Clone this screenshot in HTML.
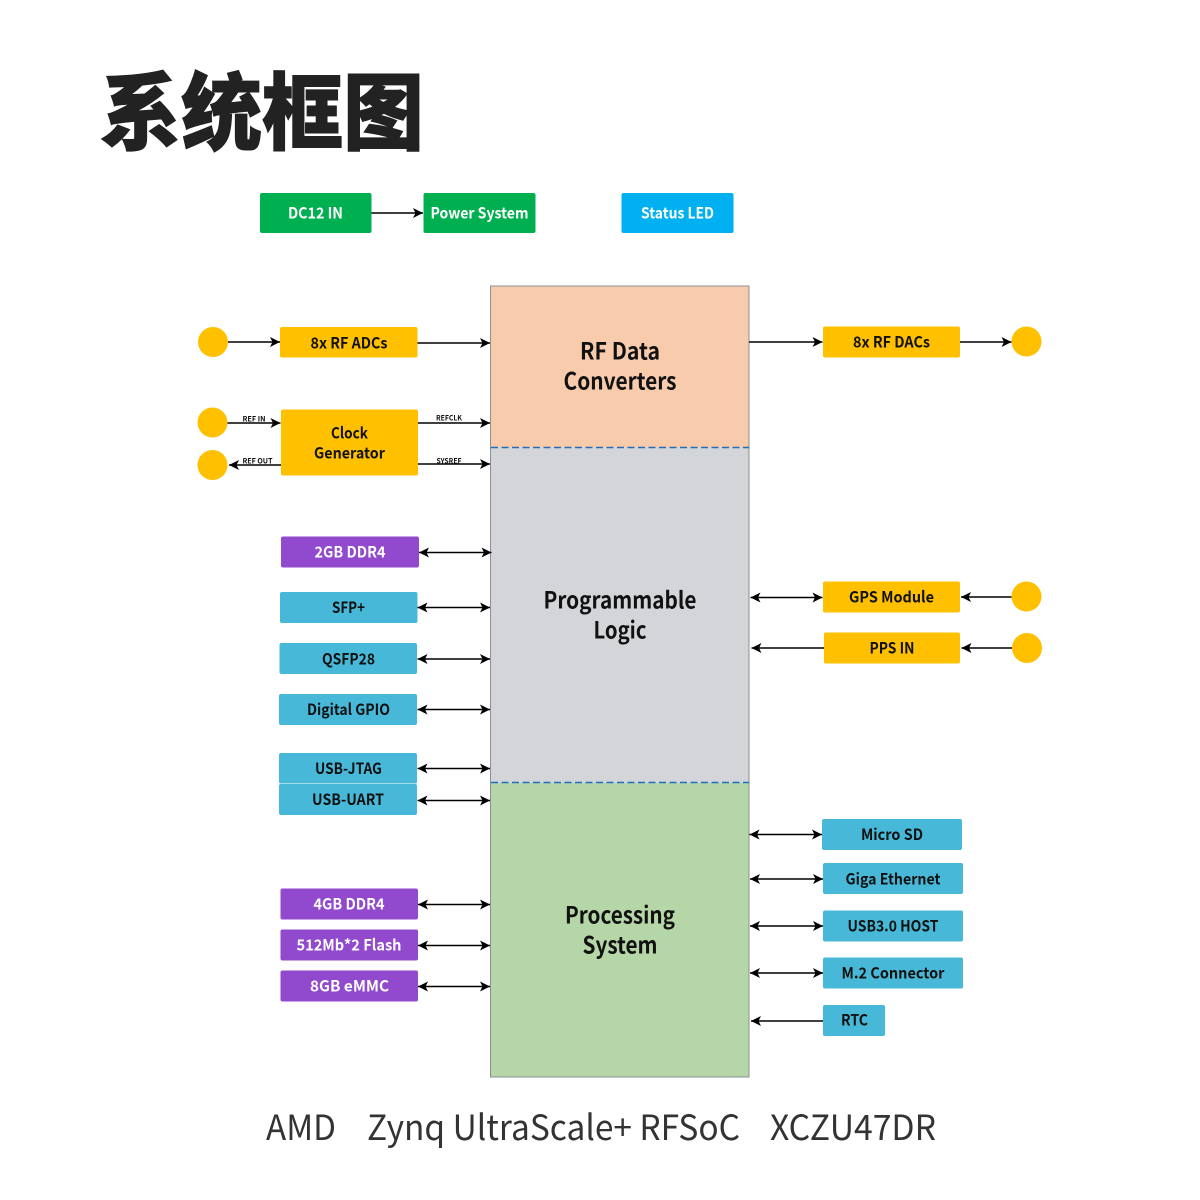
<!DOCTYPE html>
<html><head><meta charset="utf-8"><style>
html,body{margin:0;padding:0;background:#fff}
svg{display:block}
text{font-family:"Noto Sans CJK SC","Liberation Sans",sans-serif;font-weight:bold;text-anchor:middle}
.b{font-size:15.500px;fill:#111}
.w{font-size:15.500px;fill:#fff}
.s{font-size:7.500px;fill:#111}
.m{font-size:23.500px;fill:#111}
.c{font-family:"Noto Sans CJK SC","Liberation Sans",sans-serif;font-weight:400;font-size:35px;fill:#333;text-anchor:start}
</style></head><body>
<svg width="1200" height="1200" viewBox="0 0 1200 1200" xmlns="http://www.w3.org/2000/svg">
<defs>
<marker id="e" markerUnits="userSpaceOnUse" markerWidth="11" markerHeight="10" refX="10" refY="5" orient="auto"><path d="M0 0L10 5L0 10L2.500 5Z" fill="#000"/></marker>
<marker id="st" markerUnits="userSpaceOnUse" markerWidth="11" markerHeight="10" refX="0" refY="5" orient="auto"><path d="M10 0L0 5L10 10L7.500 5Z" fill="#000"/></marker>
</defs>
<text x="100" y="143" textLength="324" lengthAdjust="spacingAndGlyphs" style="font-family:'Noto Sans CJK SC','WenQuanYi Zen Hei',sans-serif;font-weight:900;font-size:84px;fill:#222;stroke:#222;stroke-width:1px;text-anchor:start">系统框图</text>

<rect x="490.500" y="286" width="258.500" height="162" fill="#f8cbad"/>
<rect x="490.500" y="448" width="258.500" height="335" fill="#d3d5d8"/>
<rect x="490.500" y="783" width="258.500" height="294" fill="#b5d6a7"/>
<rect x="490.500" y="286" width="258.500" height="791" fill="none" stroke="#8a9090" stroke-width="1"/>
<path d="M491 447.500H749M491 782.500H749" stroke="#1f6fbf" stroke-width="1.600" stroke-dasharray="7 3.500" fill="none"/>

<g fill="#00b050"><rect x="260" y="193" width="111.500" height="40" rx="2"/><rect x="423.500" y="193" width="112" height="40" rx="2"/></g>
<rect x="621.500" y="193" width="112" height="40" rx="2" fill="#00b0f0"/>

<g fill="#ffc000">
<rect x="280" y="327" width="137.500" height="30.500" rx="2"/>
<rect x="281" y="409.500" width="137" height="66" rx="2"/>
<rect x="823" y="326.500" width="137" height="31" rx="2"/>
<rect x="823" y="581.500" width="137" height="31" rx="2"/>
<rect x="824" y="632.500" width="136" height="31" rx="2"/>
<circle cx="213" cy="342" r="15"/><circle cx="212.500" cy="422.500" r="15"/><circle cx="212.500" cy="465" r="15"/>
<circle cx="1026.500" cy="341.500" r="15"/><circle cx="1026.500" cy="596.500" r="15"/><circle cx="1027" cy="648" r="15"/>
</g>
<g fill="#9149cd">
<rect x="281" y="536.500" width="138" height="31" rx="2"/>
<rect x="280.500" y="888.500" width="137.500" height="31" rx="2"/>
<rect x="280.500" y="929.500" width="137.500" height="31" rx="2"/>
<rect x="280.500" y="970.500" width="137.500" height="31" rx="2"/>
</g>
<g fill="#48b8d8">
<rect x="280" y="592" width="137.500" height="31" rx="2"/>
<rect x="279.500" y="643" width="137.500" height="31" rx="2"/>
<rect x="279" y="694" width="138" height="31" rx="2"/>
<rect x="279" y="753" width="138" height="30.500" rx="2"/>
<rect x="279" y="784" width="138" height="31" rx="2"/>
<rect x="822" y="819" width="140" height="31" rx="2"/>
<rect x="823" y="863" width="140" height="31" rx="2"/>
<rect x="823" y="910.500" width="140" height="31" rx="2"/>
<rect x="823" y="957.500" width="140" height="31" rx="2"/>
<rect x="823" y="1005" width="62" height="31" rx="2"/>
</g>

<g stroke="#000" stroke-width="1.500" fill="none">
<path d="M371.500 213H423" marker-end="url(#e)"/>
<path d="M228 342H280" marker-end="url(#e)"/>
<path d="M417.500 343H490" marker-end="url(#e)"/>
<path d="M227.500 423H280.500" marker-end="url(#e)"/>
<path d="M281 465H229" marker-end="url(#e)"/>
<path d="M418 423H490" marker-end="url(#e)"/>
<path d="M418 464H490" marker-end="url(#e)"/>
<path d="M749 342H822.500" marker-end="url(#e)"/>
<path d="M960 342H1011.500" marker-end="url(#e)"/>
<path d="M1011.500 597H961" marker-end="url(#e)"/>
<path d="M1012 648H961.500" marker-end="url(#e)"/>
<path d="M824 648H751.500" marker-end="url(#e)"/>
<path d="M823 1021H751" marker-end="url(#e)"/>
<path d="M419 552.500H491.500" marker-start="url(#st)" marker-end="url(#e)"/>
<path d="M417.500 607.500H490" marker-start="url(#st)" marker-end="url(#e)"/>
<path d="M417.500 659H490" marker-start="url(#st)" marker-end="url(#e)"/>
<path d="M417.500 709.500H490" marker-start="url(#st)" marker-end="url(#e)"/>
<path d="M417.500 768.500H490" marker-start="url(#st)" marker-end="url(#e)"/>
<path d="M417.500 800.500H490" marker-start="url(#st)" marker-end="url(#e)"/>
<path d="M418 904.500H490" marker-start="url(#st)" marker-end="url(#e)"/>
<path d="M418 945.500H490" marker-start="url(#st)" marker-end="url(#e)"/>
<path d="M418 986.500H490" marker-start="url(#st)" marker-end="url(#e)"/>
<path d="M750.500 597.500H822.500" marker-start="url(#st)" marker-end="url(#e)"/>
<path d="M749.500 834.500H822" marker-start="url(#st)" marker-end="url(#e)"/>
<path d="M750 879H823" marker-start="url(#st)" marker-end="url(#e)"/>
<path d="M750 926H823" marker-start="url(#st)" marker-end="url(#e)"/>
<path d="M750 973H823" marker-start="url(#st)" marker-end="url(#e)"/>
</g>

<g transform="translate(0 0.500)">
<text class="w" x="315.500" y="218" textLength="55" lengthAdjust="spacingAndGlyphs">DC12 IN</text>
<text class="w" x="479.500" y="218" textLength="98" lengthAdjust="spacingAndGlyphs">Power System</text>
<text class="w" x="677.500" y="218" textLength="73" lengthAdjust="spacingAndGlyphs">Status LED</text>
<text class="b" x="349" y="348" textLength="77" lengthAdjust="spacingAndGlyphs">8x RF ADCs</text>
<text class="b" x="349.500" y="438" textLength="37" lengthAdjust="spacingAndGlyphs">Clock</text>
<text class="b" x="349.500" y="458" textLength="71" lengthAdjust="spacingAndGlyphs">Generator</text>
<text class="b" x="891.500" y="347" textLength="77" lengthAdjust="spacingAndGlyphs">8x RF DACs</text>
<text class="b" x="891.500" y="602" textLength="85" lengthAdjust="spacingAndGlyphs">GPS Module</text>
<text class="b" x="892" y="653" textLength="45" lengthAdjust="spacingAndGlyphs">PPS IN</text>
<text class="w" x="350" y="557" textLength="71" lengthAdjust="spacingAndGlyphs">2GB DDR4</text>
<text class="b" x="348.500" y="612.500" textLength="33" lengthAdjust="spacingAndGlyphs">SFP+</text>
<text class="b" x="348.500" y="664" textLength="53" lengthAdjust="spacingAndGlyphs">QSFP28</text>
<text class="b" x="348.500" y="714.500" textLength="83" lengthAdjust="spacingAndGlyphs">Digital GPIO</text>
<text class="b" x="348.500" y="773.500" textLength="67" lengthAdjust="spacingAndGlyphs">USB-JTAG</text>
<text class="b" x="348" y="804.500" textLength="72" lengthAdjust="spacingAndGlyphs">USB-UART</text>
<text class="w" x="349" y="909" textLength="71" lengthAdjust="spacingAndGlyphs">4GB DDR4</text>
<text class="w" x="349" y="950" textLength="105" lengthAdjust="spacingAndGlyphs">512Mb*2 Flash</text>
<text class="w" x="349.500" y="991" textLength="79" lengthAdjust="spacingAndGlyphs">8GB eMMC</text>
<text class="b" x="892" y="839.500" textLength="62" lengthAdjust="spacingAndGlyphs">Micro SD</text>
<text class="b" x="893" y="884" textLength="95" lengthAdjust="spacingAndGlyphs">Giga Ethernet</text>
<text class="b" x="893" y="931" textLength="91" lengthAdjust="spacingAndGlyphs">USB3.0 HOST</text>
<text class="b" x="893" y="978" textLength="103" lengthAdjust="spacingAndGlyphs">M.2 Connector</text>
<text class="b" x="854.500" y="1025" textLength="27" lengthAdjust="spacingAndGlyphs">RTC</text>

<text class="s" x="254" y="421" textLength="23" lengthAdjust="spacingAndGlyphs">REF IN</text>
<text class="s" x="257.500" y="463" textLength="30" lengthAdjust="spacingAndGlyphs">REF OUT</text>
<text class="s" x="449" y="420" textLength="26" lengthAdjust="spacingAndGlyphs">REFCLK</text>
<text class="s" x="449" y="463" textLength="25" lengthAdjust="spacingAndGlyphs">SYSREF</text>

<text class="m" x="620" y="359" textLength="80" lengthAdjust="spacingAndGlyphs">RF Data</text>
<text class="m" x="620" y="389" textLength="113" lengthAdjust="spacingAndGlyphs">Converters</text>
<text class="m" x="620" y="608" textLength="153" lengthAdjust="spacingAndGlyphs">Programmable</text>
<text class="m" x="620" y="638" textLength="53" lengthAdjust="spacingAndGlyphs">Logic</text>
<text class="m" x="620" y="923" textLength="110" lengthAdjust="spacingAndGlyphs">Processing</text>
<text class="m" x="620" y="953" textLength="75" lengthAdjust="spacingAndGlyphs">System</text>
</g>

<text class="c" x="266" y="1140" textLength="70" lengthAdjust="spacingAndGlyphs">AMD</text>
<text class="c" x="367" y="1140" textLength="373" lengthAdjust="spacingAndGlyphs">Zynq UltraScale+ RFSoC</text>
<text class="c" x="770" y="1140" textLength="166" lengthAdjust="spacingAndGlyphs">XCZU47DR</text>
</svg>
</body></html>
